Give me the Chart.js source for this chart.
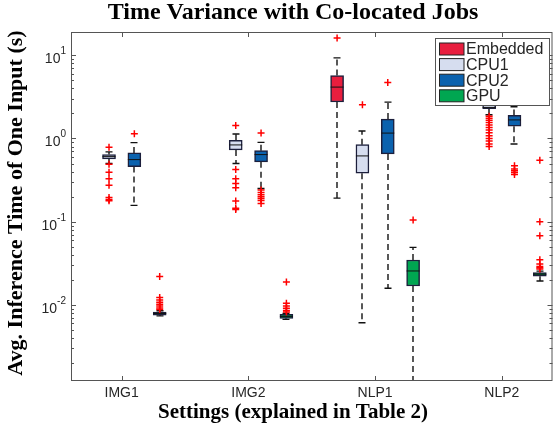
<!DOCTYPE html>
<html>
<head>
<meta charset="utf-8">
<script src="https://cdn.jsdelivr.net/npm/chart.js@4.4.1/dist/chart.umd.min.js"></script>
<style>
  html, body { margin: 0; padding: 0; background: #fff; }
</style>
</head>
<body>
<canvas id="boxChart" width="558" height="429"></canvas>
<script>
var categories = ['IMG1', 'IMG2', 'NLP1', 'NLP2'];
var seriesNames = ['Embedded', 'CPU1', 'CPU2', 'GPU'];

// per category: [lower whisker, q1, median, q3, upper whisker], null = not run
var embeddedBox = [null, null, [0.192, 2.74, 4.14, 5.70, 9.29], null];
var cpu1Box = [[0.50, 0.568, 0.605, 0.640, 0.689], [0.50, 0.729, 0.836, 0.949, 1.13], [0.0061, 0.382, 0.617, 0.843, 1.23], [1.93, 2.28, 2.36, 2.6, 3.0]];
var cpu2Box = [[0.157, 0.459, 0.557, 0.670, 0.891], [0.25, 0.524, 0.640, 0.714, 0.898], [0.0159, 0.652, 1.16, 1.71, 2.73], [0.859, 1.40, 1.67, 1.89, 2.40]];
var gpuBox = [[0.0074, 0.00755, 0.0079, 0.0082, 0.0085], [0.0067, 0.0069, 0.00728, 0.0077, 0.0079], [0.001, 0.0169, 0.0256, 0.0347, 0.0492], [0.0194, 0.0221, 0.0234, 0.0245, 0.0255]];

// outliers per category
var embeddedOut = [[], [], [16.1], []];
var cpu1Out = [[0.782, 0.49, 0.393, 0.327, 0.274, 0.195, 0.185, 0.178], [1.435, 0.423, 0.327, 0.288, 0.255, 0.177, 0.145, 0.140], [2.54], [1.85, 1.75, 1.65, 1.55, 1.45, 1.35, 1.26, 1.17, 1.08, 1.0, 0.93, 0.86, 0.80]];
var cpu2Out = [[1.14], [1.16, 0.24, 0.225, 0.21, 0.20, 0.19, 0.18, 0.165], [4.70], [0.47, 0.43, 0.41, 0.39, 0.37]];
var gpuOut = [[0.0219, 0.0123, 0.0115, 0.0108, 0.0102, 0.0097, 0.0092, 0.0088], [0.0189, 0.0105, 0.0097, 0.0091, 0.0086, 0.0082], [0.1045], [0.547, 0.1, 0.0679, 0.035, 0.031, 0.029, 0.028, 0.027]];

var yTicks = [0.01, 0.1, 1, 10];
var yTickExp = ['-2', '-1', '0', '1'];

var boxes = [embeddedBox, cpu1Box, cpu2Box, gpuBox];
var outliers = [embeddedOut, cpu1Out, cpu2Out, gpuOut];
var colors = ['#e81e3e', '#d6ddef', '#0b62ae', '#00a651'];
var offsets = [-0.3, -0.1, 0.1, 0.3];

var datasets = [];
boxes.forEach(function (s, si) {
    var pts = [];
    s.forEach(function (b, ci) {
        if (b) pts.push({x: ci + 1 + offsets[si], y: [b[1], b[3]]});
    });
    datasets.push({
        type: 'bar', label: seriesNames[si], data: pts,
        backgroundColor: colors[si], borderColor: '#1c1f3c', borderWidth: 1.5,
        borderSkipped: false, barThickness: 13, grouped: false, order: 2
    });
});
outliers.forEach(function (s, si) {
    var pts = [];
    s.forEach(function (list, ci) {
        list.forEach(function (v) { pts.push({x: ci + 1 + offsets[si], y: v}); });
    });
    datasets.push({
        type: 'scatter', label: seriesNames[si] + ' outliers', data: pts,
        pointStyle: 'cross', pointRadius: 3.5, borderColor: '#ff0000',
        backgroundColor: '#ff0000', borderWidth: 1.5, order: 0
    });
});

var axisColor = '#555';
var textColor = '#262626';

var boxPlot = {
    id: 'boxPlot',
    beforeDatasetsDraw: function (chart) {
        var ctx = chart.ctx, xs = chart.scales.x, ys = chart.scales.y, a = chart.chartArea;
        ctx.save();
        ctx.beginPath(); ctx.rect(a.left, a.top, a.width, a.height); ctx.clip();
        ctx.strokeStyle = '#111'; ctx.lineWidth = 1.4;
        boxes.forEach(function (s, si) {
            s.forEach(function (b, ci) {
                if (!b) return;
                var px = Math.round(xs.getPixelForValue(ci + 1 + offsets[si]));
                ctx.setLineDash([6, 4]);
                ctx.beginPath();
                ctx.moveTo(px, ys.getPixelForValue(b[1])); ctx.lineTo(px, ys.getPixelForValue(b[0]));
                ctx.moveTo(px, ys.getPixelForValue(b[3])); ctx.lineTo(px, ys.getPixelForValue(b[4]));
                ctx.stroke();
                ctx.setLineDash([]);
                ctx.beginPath();
                [b[0], b[4]].forEach(function (v) {
                    var py = ys.getPixelForValue(v);
                    ctx.moveTo(px - 3.5, py); ctx.lineTo(px + 3.5, py);
                });
                ctx.stroke();
            });
        });
        ctx.restore();
    },
    afterDatasetsDraw: function (chart) {
        var ctx = chart.ctx, xs = chart.scales.x, ys = chart.scales.y;
        ctx.save();
        ctx.strokeStyle = '#111'; ctx.lineWidth = 1;
        boxes.forEach(function (s, si) {
            s.forEach(function (b, ci) {
                if (!b) return;
                var px = xs.getPixelForValue(ci + 1 + offsets[si]);
                var py = ys.getPixelForValue(b[2]);
                ctx.beginPath(); ctx.moveTo(px - 6.5, py); ctx.lineTo(px + 6.5, py); ctx.stroke();
            });
        });
        ctx.restore();
    },
    afterDraw: function (chart) {
        var ctx = chart.ctx, xs = chart.scales.x, ys = chart.scales.y, a = chart.chartArea;
        ctx.save();
        // frame
        ctx.strokeStyle = axisColor; ctx.lineWidth = 1;
        ctx.strokeRect(a.left + 0.5, a.top + 0.5, a.width - 1, a.height - 1);
        // x ticks
        ctx.beginPath();
        categories.forEach(function (c, i) {
            var px = Math.round(xs.getPixelForValue(i + 1)) + 0.5;
            ctx.moveTo(px, a.bottom); ctx.lineTo(px, a.bottom - 5);
            ctx.moveTo(px, a.top); ctx.lineTo(px, a.top + 5);
        });
        // y ticks, major and minor
        for (var d = -3; d <= 1; d++) {
            for (var m = 1; m <= 9; m++) {
                var v = m * Math.pow(10, d);
                if (v < ys.min || v > ys.max) continue;
                var py = Math.round(ys.getPixelForValue(v)) + 0.5;
                var len = m === 1 ? 5 : 3;
                ctx.moveTo(a.left, py); ctx.lineTo(a.left + len, py);
                ctx.moveTo(a.right, py); ctx.lineTo(a.right - len, py);
            }
        }
        ctx.stroke();
        // tick labels
        ctx.fillStyle = textColor;
        ctx.font = '14px "Liberation Sans", Arial, sans-serif';
        ctx.textAlign = 'center'; ctx.textBaseline = 'alphabetic';
        categories.forEach(function (c, i) {
            ctx.fillText(c, xs.getPixelForValue(i + 1), 397);
        });
        yTicks.forEach(function (v, i) {
            var py = ys.getPixelForValue(v);
            ctx.font = '10px "Liberation Sans", Arial, sans-serif';
            var ew = ctx.measureText(yTickExp[i]).width;
            ctx.textAlign = 'left';
            ctx.fillText(yTickExp[i], 66 - ew, py - 1);
            ctx.font = '14px "Liberation Sans", Arial, sans-serif';
            ctx.textAlign = 'right';
            ctx.fillText('10', 66 - ew, py + 8);
        });
        // titles
        ctx.fillStyle = '#000';
        ctx.textAlign = 'center';
        ctx.font = 'bold 24px "Liberation Serif", "Times New Roman", serif';
        ctx.fillText('Time Variance with Co-located Jobs', 293, 19);
        ctx.font = 'bold 21px "Liberation Serif", "Times New Roman", serif';
        ctx.fillText('Settings (explained in Table 2)', 293, 418);
        ctx.save();
        ctx.translate(22, 203);
        ctx.rotate(-Math.PI / 2);
        ctx.font = 'bold 22px "Liberation Serif", "Times New Roman", serif';
        ctx.fillText('Avg. Inference Time of One Input (s)', 0, 0);
        ctx.restore();
        // legend
        var lx = 435, ly = 38, lw = 114, lh = 67;
        ctx.fillStyle = '#fff';
        ctx.fillRect(lx, ly, lw, lh);
        ctx.strokeStyle = axisColor; ctx.lineWidth = 1;
        ctx.strokeRect(lx + 0.5, ly + 0.5, lw, lh);
        ctx.font = '16px "Liberation Sans", Arial, sans-serif';
        ctx.textAlign = 'left'; ctx.textBaseline = 'middle';
        seriesNames.forEach(function (n, i) {
            var cy = 49 + i * 15.6;
            ctx.fillStyle = colors[i];
            ctx.fillRect(439.5, cy - 6, 24.5, 12);
            ctx.strokeStyle = '#222'; ctx.lineWidth = 1;
            ctx.strokeRect(439.5, cy - 6, 24.5, 12);
            ctx.fillStyle = textColor;
            ctx.fillText(n, 466, cy + 1);
        });
        ctx.restore();
    }
};

var ctx = document.getElementById('boxChart').getContext('2d');
var boxChart = new Chart(ctx, {
    type: 'bar',
    data: { datasets: datasets },
    options: {
        responsive: false,
        animation: false,
        devicePixelRatio: 1,
        layout: { padding: { top: 32, right: 4, left: 0, bottom: 0 } },
        plugins: {
            legend: { display: false },
            title: { display: false },
            tooltip: { enabled: false }
        },
        scales: {
            x: {
                type: 'linear', min: 0.6, max: 4.4, offset: false,
                grid: { display: false }, ticks: { display: false },
                border: { display: false },
                afterFit: function (s) { s.height = 48; }
            },
            y: {
                type: 'logarithmic', min: 0.00122, max: 19,
                grid: { display: false }, ticks: { display: false },
                border: { display: false },
                afterFit: function (s) { s.width = 71; }
            }
        }
    },
    plugins: [boxPlot]
});
</script>
</body>
</html>
